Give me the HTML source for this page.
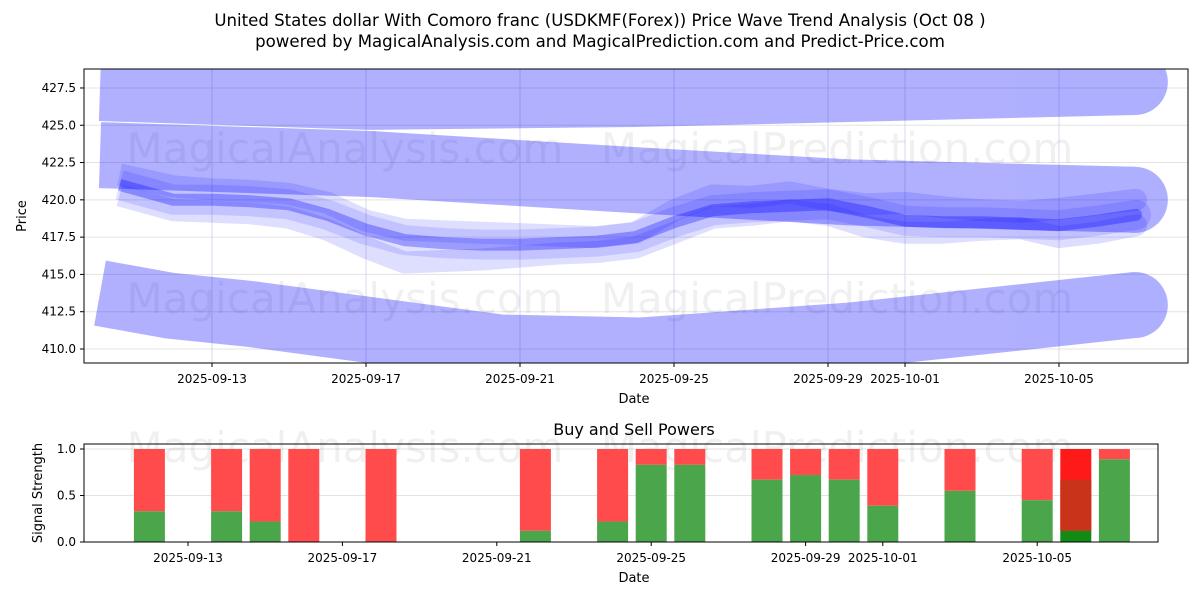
<!DOCTYPE html>
<html><head><meta charset="utf-8">
<style>
body{margin:0;background:#fff;}
svg{display:block;font-family:"DejaVu Sans","Liberation Sans",sans-serif;}
</style></head>
<body>
<svg id="chart" width="1200" height="600" viewBox="0 0 1200 600" xmlns="http://www.w3.org/2000/svg">
<defs>
<clipPath id="clipTop"><rect x="84" y="69" width="1104" height="294"/></clipPath>
<clipPath id="clipBot"><rect x="84" y="444" width="1074" height="98"/></clipPath>
</defs>
<rect width="1200" height="600" fill="#fff"/>
<text x="600" y="26" text-anchor="middle" font-size="16.6">United States dollar With Comoro franc (USDKMF(Forex)) Price Wave Trend Analysis (Oct 08 )</text>
<text x="600" y="47" text-anchor="middle" font-size="16.6">powered by MagicalAnalysis.com and MagicalPrediction.com and Predict-Price.com</text>
<g id="topPanel"></g>
<g id="botPanel"></g>
</svg>
<script>
// ---- price chart data (days relative to 2025-09-13) ----
const bandDays = [-2.91, 4.10, 11.12, 12.94, 23.97];
const bandUpper = [427.5, 426.9, 427.1, 427.2, 427.9];
const bandMidDays = [-2.91, 4.10, 11.12, 16.57, 23.97];
const bandMid = [423.0, 422.4, 421.3, 420.5, 420.0];
const bandLowDays = [-2.91, -1.09, 0.99, 7.48, 11.12, 16.57, 23.97];
const bandLow = [413.75, 412.9, 412.35, 410.1, 409.9, 410.9, 412.95];
const waveDays = [-2.4,-1,0,1,2,3,4,5,6,7,8,9,10,11,12,13,14,15,16,17,18,19,20,21,22,23,24];
const waveMain = [421.0,420.0,420.0,419.9,419.7,419.0,418.0,417.3,417.1,417.0,417.0,417.1,417.2,417.5,418.5,419.3,419.5,419.6,419.7,419.2,418.6,418.5,418.5,418.4,418.3,418.6,419.0];
const waveLow = [420.3,419.3,419.2,419.1,418.8,418.0,416.8,415.8,415.9,416.0,416.2,416.4,416.5,416.8,417.8,418.8,419.0,419.3,419.0,418.2,417.8,417.8,418.0,418.1,417.5,417.8,418.3];
const waveHigh = [421.7,420.9,420.7,420.6,420.4,419.8,418.6,418.0,417.9,417.8,417.7,417.6,417.5,417.8,419.3,420.3,420.2,420.5,420.0,419.7,419.8,419.5,419.3,419.2,419.4,419.7,420.0];
const yTicks = [410.0, 412.5, 415.0, 417.5, 420.0, 422.5, 425.0, 427.5];
const xTickDays = [0, 4, 8, 12, 16, 18, 22];
const xTickLabels = ["2025-09-13","2025-09-17","2025-09-21","2025-09-25","2025-09-29","2025-10-01","2025-10-05"];
// ---- signal chart data ----
const barDays = [-1,1,2,3,5,9,11,12,13,15,16,17,18,20,22,23,24];
const buyVals = [0.33,0.33,0.22,0,0,0.12,0.22,0.83,0.83,0.67,0.72,0.67,0.39,0.55,0.45,0.12,0.89];
const sigTicks = [0.0, 0.5, 1.0];

const NS="http://www.w3.org/2000/svg";
function mk(tag, attrs, parent){const e=document.createElementNS(NS,tag);for(const k in attrs)e.setAttribute(k,attrs[k]);parent.appendChild(e);return e;}
const topG=document.getElementById('topPanel'), botG=document.getElementById('botPanel');
const X=d=>212+d*38.5;
const Y=v=>349-(v-410)*14.916;
const XB=d=>188+d*38.6;
const YB=v=>542-v*93;

yTicks.forEach(t=>{
  const l=mk('line',{x1:84,x2:1188,y1:Y(t),y2:Y(t),stroke:'#e3e3e3','stroke-width':1},topG);
  
  
  const tk=mk('line',{x1:80,x2:84,y1:Y(t),y2:Y(t),stroke:'#000'},topG);
  
  
  const tx=mk('text',{x:76,y:Y(t)+4,'text-anchor':'end','font-size':12},topG);tx.textContent=t.toFixed(1);
  
  
});
xTickDays.forEach((d,i)=>{
  const l=mk('line',{x1:X(d),x2:X(d),y1:69,y2:363,stroke:'#d8d8ec','stroke-width':1},topG);
  
  
  const tk=mk('line',{x1:X(d),x2:X(d),y1:363,y2:367,stroke:'#000'},topG);
  
  
  const tx=mk('text',{x:X(d),y:383,'text-anchor':'middle','font-size':12},topG);tx.textContent=xTickLabels[i];
  
  
});
[[345,163],[837,163],[345,313],[837,313]].forEach((p,i)=>{
  const w=mk('text',{x:p[0],y:p[1],'text-anchor':'middle','font-size':42,fill:'#000','fill-opacity':0.06},topG);
  w.textContent=i%2==0?'MagicalAnalysis.com':'MagicalPrediction.com';
  
  
});
const g=mk('g',{'clip-path':'url(#clipTop)'},topG);
function pts(ds,vs){return ds.map((d,i)=>X(d).toFixed(1)+','+Y(vs[i]).toFixed(1)).join(' ');}
function band(ds,vs,w,op,name){
  const grp=mk('g',{opacity:op},g);
  
  
  const p=mk('polyline',{points:pts(ds,vs),fill:'none',stroke:'rgb(0,0,255)','stroke-width':w,'stroke-linejoin':'round','stroke-linecap':'butt'},grp);
  
  
  const n=ds.length-1;
  const c=mk('circle',{cx:X(ds[n]),cy:Y(vs[n]),r:w/2,fill:'rgb(0,0,255)'},grp);
  
  
}
band(bandDays,bandUpper,66,0.31,'upper-band');
band(bandMidDays,bandMid,66,0.31,'middle-band');
band(bandLowDays,bandLow,66,0.31,'lower-band');
band(waveDays,waveLow,22,0.13,'wave-low');
band(waveDays,waveHigh,22,0.13,'wave-high');
band(waveDays,waveMain,30,0.12,'wave-wide');
band(waveDays,waveMain,12,0.3,'wave-main');
const fr=mk('rect',{x:84,y:69,width:1104,height:294,fill:'none',stroke:'#000','stroke-width':1},topG);


let t;
t=mk('text',{x:634,y:403,'text-anchor':'middle','font-size':13},topG);t.textContent='Date';


t=mk('text',{x:26,y:216,'text-anchor':'middle','font-size':13,transform:'rotate(-90 26 216)'},topG);t.textContent='Price';



t=mk('text',{x:634,y:435,'text-anchor':'middle','font-size':16},botG);t.textContent='Buy and Sell Powers';


sigTicks.forEach(s=>{
  const l=mk('line',{x1:84,x2:1158,y1:YB(s),y2:YB(s),stroke:'#e3e3e3'},botG);
  
  
  const tk=mk('line',{x1:80,x2:84,y1:YB(s),y2:YB(s),stroke:'#000'},botG);
  
  
  const tx=mk('text',{x:76,y:YB(s)+4,'text-anchor':'end','font-size':12},botG);tx.textContent=s.toFixed(1);
  
  
});
const wm=mk('text',{x:345,y:462,'text-anchor':'middle','font-size':42,'fill-opacity':0.06},botG);wm.textContent='MagicalAnalysis.com';


const wm2=mk('text',{x:837,y:462,'text-anchor':'middle','font-size':42,'fill-opacity':0.06},botG);wm2.textContent='MagicalPrediction.com';


const gb=mk('g',{'clip-path':'url(#clipBot)'},botG);
barDays.forEach((d,i)=>{
  const v=buyVals[i], x=XB(d)-15.5, special=(d===23);
  const r=mk('rect',{x:x,y:YB(1),width:31,height:YB(v)-YB(1),fill:special?'#ff1a1a':'#ff4b4b'},gb);
  
  
  if(special){
    const r2=mk('rect',{x:x,y:YB(0.67),width:31,height:YB(v)-YB(0.67),fill:'#c8331a'},gb);
    
    
  }
  const gr=mk('rect',{x:x,y:YB(v),width:31,height:YB(0)-YB(v),fill:special?'#138a13':'#4ba64b'},gb);
  
  
});
xTickDays.forEach((d,i)=>{
  const tk=mk('line',{x1:XB(d),x2:XB(d),y1:542,y2:546,stroke:'#000'},botG);
  
  
  const tx=mk('text',{x:XB(d),y:562,'text-anchor':'middle','font-size':12},botG);tx.textContent=xTickLabels[i];
  
  
});
const fb=mk('rect',{x:84,y:444,width:1074,height:98,fill:'none',stroke:'#000'},botG);


t=mk('text',{x:634,y:582,'text-anchor':'middle','font-size':13},botG);t.textContent='Date';


t=mk('text',{x:42,y:493,'text-anchor':'middle','font-size':13,transform:'rotate(-90 42 493)'},botG);t.textContent='Signal Strength';


</script>
</body></html>
